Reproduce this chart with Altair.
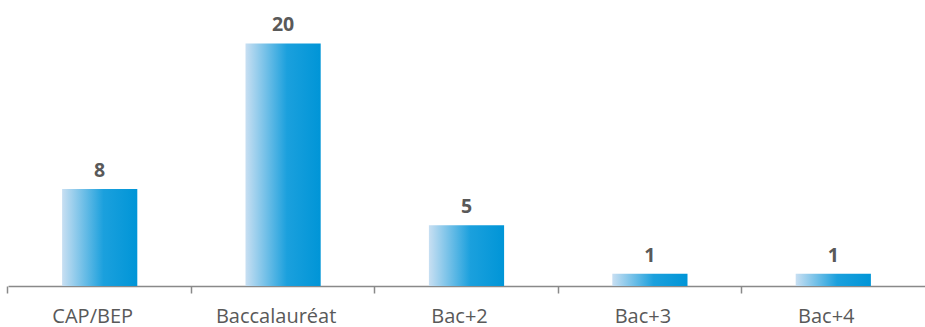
import altair as alt
import pandas as pd

categories = ["CAP/BEP", "Baccalauréat", "Bac+2", "Bac+3", "Bac+4"]
values = [8, 20, 5, 1, 1]

df = pd.DataFrame({"cat": categories, "val": values})

grad = alt.LinearGradient(
    gradient="linear",
    stops=[
        alt.GradientStop(color="#c8dff2", offset=0),
        alt.GradientStop(color="#1ba0dd", offset=0.55),
        alt.GradientStop(color="#0095d7", offset=1),
    ],
    x1=0, x2=1, y1=0, y2=0,
)

p_inner = 0.59
p_outer = p_inner / 2
tick_pos = -p_outer / (1 - p_inner)

x = alt.X(
    "cat:N",
    sort=categories,
    scale=alt.Scale(paddingInner=p_inner, paddingOuter=p_outer),
    axis=alt.Axis(
        title=None,
        labelAngle=0,
        labelFont="Open Sans",
        labelFontSize=20,
        labelColor="#595959",
        labelPadding=13,
        labelOffset=-7,
        domainColor="#898989",
        domainWidth=1.5,
        ticks=True,
        tickColor="#898989",
        tickSize=7,
        tickWidth=1.5,
        bandPosition=tick_pos,
        grid=False,
    ),
)
y = alt.Y("val:Q", scale=alt.Scale(domain=[0, 23.58], nice=False), axis=None)

bars = alt.Chart(df).mark_bar(color=grad).encode(x=x, y=y)
text = alt.Chart(df).mark_text(
    font="Open Sans", fontSize=19.5, fontWeight="bold", color="#595959",
    baseline="alphabetic", dy=-12,
).encode(x=x, y=y, text="val:Q")

chart = (bars + text).properties(
    width=917, height=286,
    background="white",
    autosize=alt.AutoSizeParams(type="none"),
    padding={"left": 8, "top": 0, "right": 0, "bottom": 41},
).configure_view(stroke=None)

chart.save("out.html", embed_options={"renderer": "svg", "actions": False})
